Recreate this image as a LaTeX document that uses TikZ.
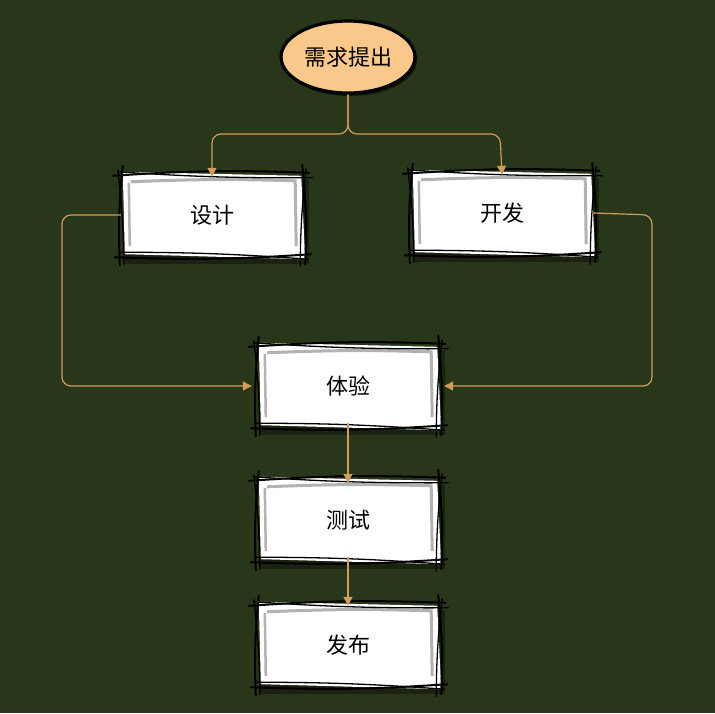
\documentclass[tikz,border=0pt]{standalone}
\usepackage{fontspec}
\newfontfamily\cjk{Noto Sans CJK SC}
\usetikzlibrary{arrows.meta,shapes.geometric,backgrounds,shadows}
\definecolor{bgc}{RGB}{40,55,25}
\definecolor{conn}{RGB}{210,155,90}
\definecolor{peach}{RGB}{250,200,138}
\tikzset{
  stepbox/.style={rectangle, minimum width=182pt, minimum height=82pt, inner sep=0pt,
    font=\cjk\fontsize{22}{25}\selectfont, text=black},
  conline/.style={draw=conn, line width=1.2pt, rounded corners=9pt,
    -{Triangle[length=9pt,width=9pt]}},
  skl/.style={draw=black, line width=2pt, line cap=round},
  skthin/.style={draw=black, line width=1.3pt, line cap=round},
}
\newcommand\skbox[1]{%
  \begin{scope}[on background layer]
    \fill[black, opacity=0.35] ([shift={(2,6)}]#1.north west) rectangle ([shift={(6,8)}]#1.south east);
    \fill[white] ([shift={(2,-2)}]#1.north west) -- ([shift={(-2,2)}]#1.north east)
      -- ([shift={(2,3)}]#1.south east) -- ([shift={(4,-2)}]#1.south west) -- cycle;
    \draw[black!30, line width=3pt] ([shift={(10,8)}]#1.north west) to[bend left=2] ([shift={(-8,7)}]#1.north east)
      -- ([shift={(-7,-10)}]#1.south east);
    \draw[black!30, line width=2.5pt] ([shift={(8,9)}]#1.north west) -- ([shift={(9,-10)}]#1.south west);
  \end{scope}
  \draw[skl] ([shift={(-8,2)}]#1.north west) to[bend left=3] ([shift={(6,-1)}]#1.north east);
  \draw[skthin] ([shift={(-3,-2)}]#1.north west) to[bend right=2] ([shift={(9,4)}]#1.north east);
  \draw[skl] ([shift={(-6,1)}]#1.south west) to[bend right=3] ([shift={(8,-2)}]#1.south east);
  \draw[skthin] ([shift={(-2,-4)}]#1.south west) to[bend left=2] ([shift={(5,3)}]#1.south east);
  \draw[skl] ([shift={(2,-8)}]#1.north west) to[bend right=4] ([shift={(-1,9)}]#1.south west);
  \draw[skthin] ([shift={(-3,-4)}]#1.north west) to[bend left=3] ([shift={(3,8)}]#1.south west);
  \draw[skl] ([shift={(-1,-9)}]#1.north east) to[bend left=4] ([shift={(2,8)}]#1.south east);
  \draw[skthin] ([shift={(3,-5)}]#1.north east) to[bend right=3] ([shift={(-3,10)}]#1.south east);
}
\begin{document}
\begin{tikzpicture}[x=1pt,y=-1pt]
  \begin{scope}[on background layer]
    \fill[bgc] (0,0) rectangle (715,713);
  \end{scope}
  \useasboundingbox (0,0) rectangle (715,713);

  \node[ellipse, draw=black, line width=3.2pt, fill=peach, minimum width=122pt, minimum height=72pt,
    font=\cjk\fontsize{22}{25}\selectfont, text=black,
    drop shadow={shadow xshift=2pt, shadow yshift=-3pt, opacity=0.6, fill=black}] (xq) at (348,57) {需求提出};

  \node[stepbox] (sj) at (212,215) {设计};
  \node[stepbox] (kf) at (502,213) {开发};
  \node[stepbox] (ty) at (348,386) {体验};
  \node[stepbox] (cs) at (348,520) {测试};
  \node[stepbox] (fb) at (348,645) {发布};

  \skbox{sj}\skbox{kf}\skbox{ty}\skbox{cs}\skbox{fb}

  \draw[conline] (xq.south) |- (212,134) -- ([yshift=-3pt]sj.north);
  \draw[conline] (xq.south) |- (500,134) -- ([yshift=-3pt]kf.north);
  \draw[conline] (sj.west) -- (62,215) |- ([xshift=-5pt]ty.west);
  \draw[conline] (kf.east) -- (652,215) |- ([xshift=5pt]ty.east);
  \draw[conline] ([yshift=4pt]ty.south) -- ([yshift=-4pt]cs.north);
  \draw[conline] ([yshift=4pt]cs.south) -- ([yshift=-2pt]fb.north);
\end{tikzpicture}
\end{document}
